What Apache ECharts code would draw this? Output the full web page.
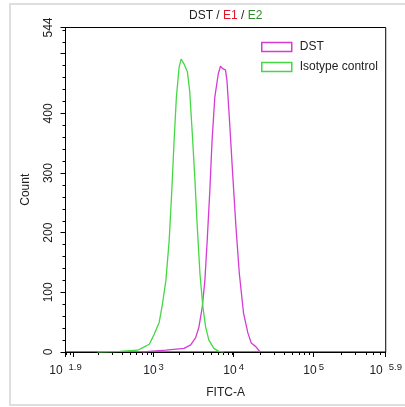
<!DOCTYPE html>
<html><head><meta charset="utf-8">
<script src="https://cdn.jsdelivr.net/npm/echarts@6/dist/echarts.min.js"></script>
<style>html,body{margin:0;padding:0;background:#fff}#c{width:405px;height:407px}</style>
</head><body><div id="c"></div>
<script>
// log10(FITC-A) positions and counts
const dstX = [2.860, 2.947, 3.154, 3.381, 3.464, 3.526, 3.567, 3.608, 3.641, 3.670, 3.703, 3.731, 3.765, 3.808, 3.836, 3.864, 3.898, 3.917, 3.951, 3.988, 4.029, 4.071, 4.124, 4.178, 4.220, 4.277, 4.331];
const dstY = [0, 1, 3, 6, 12, 24, 42, 75, 120, 187, 271, 355, 427, 466, 479, 475, 473, 455, 383, 299, 210, 132, 65, 32, 15, 9, 0];
const isoX = [2.30, 2.58, 2.80, 2.860, 2.947, 3.009, 3.071, 3.108, 3.154, 3.195, 3.228, 3.257, 3.285, 3.319, 3.344, 3.381, 3.422, 3.451, 3.484, 3.517, 3.546, 3.579, 3.616, 3.650, 3.691, 3.753, 3.815, 3.877];
const isoY = [0, 1, 3, 7, 13, 30, 50, 78, 120, 187, 271, 355, 427, 477, 491, 483, 470, 438, 366, 288, 210, 132, 76, 42, 20, 6, 1, 0];

const seriesNames = ['DST', 'Isotype control'];
const titleParts = ['DST / ', 'E1', ' / ', 'E2'];
const xName = 'FITC-A';
const yName = 'Count';
const xMin = 1.9, xMax = 5.9;
const yMin = 0, yMax = 544;
const xMajorTicks = [1.9, 2, 3, 4, 5, 5.9];
const xLabelValues = [1.9, 3, 4, 5, 5.9];
const yMajorTicks = [0, 100, 200, 300, 400, 500, 544];
const yLabelValues = [0, 100, 200, 300, 400, 544];

const xMinorTicks = [];
for (let n = 1; n <= 5; n++) for (let k = 2; k <= 9; k++) {
  const v = Math.log10(k * Math.pow(10, n));
  if (v >= xMin && v <= xMax) xMinorTicks.push(v);
}
const yMinorTicks = [];
for (let v = 20; v < yMax; v += 20) if (v % 100 !== 0) yMinorTicks.push(v);

const FONT = '"Liberation Sans", Arial, sans-serif';
const TXT = '#222';
const MAG = '#d43cd4';
const GRN = '#44d844';

const pair = (xs, ys) => xs.map((x, i) => [x, ys[i]]);
const gridPos = {left: 65.5, right: 15, top: 27.5, bottom: 55};

const chart = echarts.init(document.getElementById('c'), null, {renderer: 'canvas'});
chart.setOption({
  backgroundColor: '#fff',
  animation: false,
  title: {
    text: '{a|' + titleParts[0] + '}{r|' + titleParts[1] + '}{a|' + titleParts[2] + '}{g|' + titleParts[3] + '}',
    left: 184, top: 5,
    textStyle: {
      fontFamily: FONT, fontSize: 12, fontWeight: 'normal',
      rich: {
        a: {fontFamily: FONT, fontSize: 12, color: TXT},
        r: {fontFamily: FONT, fontSize: 12, color: '#e0162b'},
        g: {fontFamily: FONT, fontSize: 12, color: '#2e8b2e'}
      }
    }
  },
  legend: {
    orient: 'vertical', left: 256, top: 36,
    itemWidth: 30, itemHeight: 9, itemGap: 8,
    icon: 'rect',
    textStyle: {fontFamily: FONT, fontSize: 12, color: TXT, padding: [0, 0, 0, 3]},
    data: [
      {name: seriesNames[0], itemStyle: {color: 'transparent', borderColor: MAG, borderWidth: 1.5}},
      {name: seriesNames[1], itemStyle: {color: 'transparent', borderColor: GRN, borderWidth: 1.5}}
    ]
  },
  graphic: [{
    type: 'rect', z: -10, silent: true,
    shape: {x: 10, y: 4, width: 402, height: 401},
    style: {fill: 'none', stroke: '#dedede', lineWidth: 2}
  }],
  grid: [
    Object.assign({show: true, borderColor: '#000', borderWidth: 1, backgroundColor: 'transparent'}, gridPos),
    Object.assign({show: false}, gridPos)
  ],
  xAxis: [{
    gridIndex: 0, type: 'value', min: xMin, max: xMax, position: 'bottom',
    axisLine: {show: true, lineStyle: {color: '#000', width: 1}},
    axisTick: {show: true, customValues: xMajorTicks, length: 5, lineStyle: {color: '#000'}},
    splitLine: {show: false},
    axisLabel: {
      customValues: xLabelValues, margin: 10, color: TXT,
      formatter: function (v) {
        if (Math.abs(v - 1.9) < 1e-6) return '{b|10}{f|1.9}';
        if (Math.abs(v - 5.9) < 1e-6) return '{b|10}{f|5.9}';
        return '{b|10}{s|' + Math.round(v) + '}';
      },
      rich: {
        b: {fontFamily: FONT, fontSize: 12, color: TXT, lineHeight: 15, verticalAlign: 'bottom'},
        s: {fontFamily: FONT, fontSize: 9.5, color: TXT, verticalAlign: 'top', padding: [0, 0, 0, 2]},
        f: {fontFamily: FONT, fontSize: 9.5, color: TXT, verticalAlign: 'top', padding: [0, 0, 0, 6]}
      }
    },
    name: xName, nameLocation: 'middle', nameGap: 35,
    nameTextStyle: {fontFamily: FONT, fontSize: 12, color: TXT}
  }, {
    gridIndex: 1, type: 'value', min: xMin, max: xMax, position: 'bottom',
    axisLine: {show: false},
    axisTick: {show: true, customValues: xMinorTicks, length: 3, lineStyle: {color: '#000'}},
    axisLabel: {show: false}, splitLine: {show: false}
  }],
  yAxis: [{
    gridIndex: 0, type: 'value', min: yMin, max: yMax, position: 'left',
    axisLine: {show: true, lineStyle: {color: '#000', width: 1}},
    axisTick: {show: true, customValues: yMajorTicks, length: 5, lineStyle: {color: '#000'}},
    splitLine: {show: false},
    axisLabel: {customValues: yLabelValues, rotate: 90, margin: 11, color: TXT, fontFamily: FONT, fontSize: 12},
    name: yName, nameLocation: 'middle', nameGap: 34,
    nameTextStyle: {fontFamily: FONT, fontSize: 12, color: TXT}
  }, {
    gridIndex: 1, type: 'value', min: yMin, max: yMax, position: 'left',
    axisLine: {show: false},
    axisTick: {show: true, customValues: yMinorTicks, length: 3, lineStyle: {color: '#000'}},
    axisLabel: {show: false}, splitLine: {show: false}
  }],
  series: [{
    name: seriesNames[0], type: 'line', xAxisIndex: 0, yAxisIndex: 0,
    data: pair(dstX, dstY), showSymbol: false, smooth: false,
    lineStyle: {color: MAG, width: 1.3}, itemStyle: {color: MAG}
  }, {
    name: seriesNames[1], type: 'line', xAxisIndex: 0, yAxisIndex: 0,
    data: pair(isoX, isoY), showSymbol: false, smooth: false,
    lineStyle: {color: GRN, width: 1.3}, itemStyle: {color: GRN}
  }]
});
</script>
</body></html>
